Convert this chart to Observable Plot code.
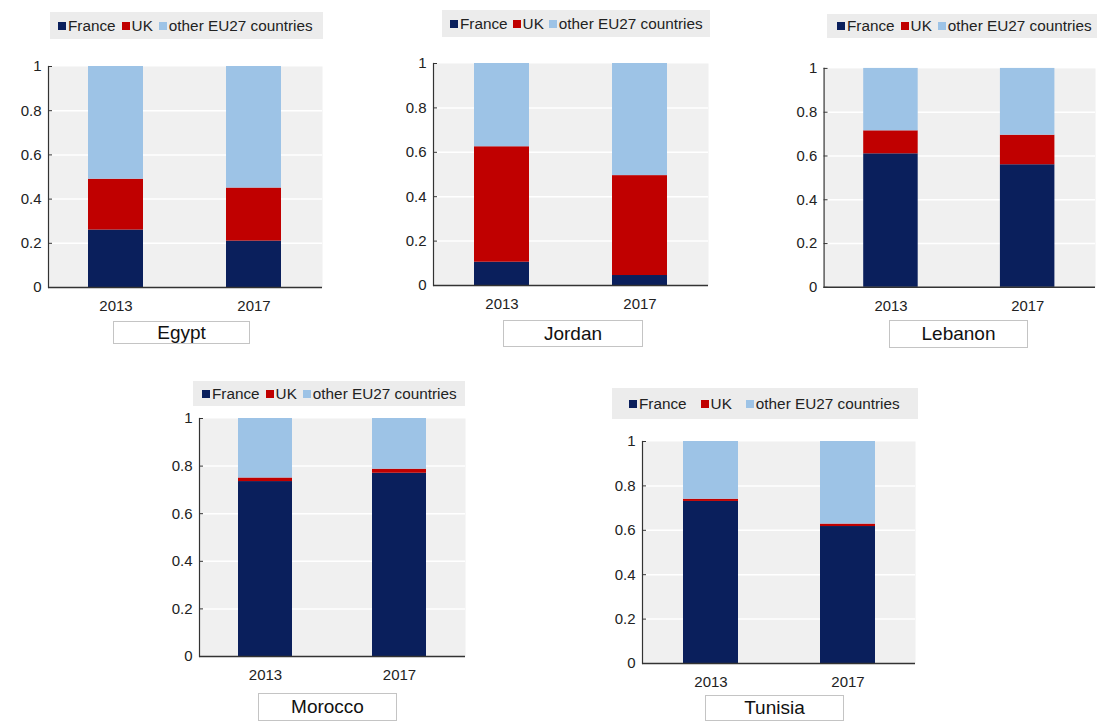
<!DOCTYPE html>
<html><head><meta charset="utf-8">
<script src="https://cdn.jsdelivr.net/npm/d3@7"></script>
<script src="https://cdn.jsdelivr.net/npm/@observablehq/plot@0.6"></script>
<style>
body{margin:0;background:#fff;font-family:"Liberation Sans",Arial,sans-serif;}
#root{position:relative;width:1097px;height:721px;overflow:hidden;}
.legend{position:absolute;background:#ececec;display:flex;align-items:center;justify-content:flex-start;box-sizing:border-box;font-size:15.3px;color:#222;white-space:nowrap;}
.legend .item{display:flex;align-items:center;}
.legend .sw{width:8px;height:8px;margin-right:2px;}
.lab{position:absolute;border:1px solid #c4c4c4;background:#fff;box-sizing:border-box;display:flex;align-items:center;justify-content:center;font-size:19px;color:#111;}
.panel{position:absolute;}
</style></head>
<body><div id="root"></div>
<script>
// ---- data ----
const countries = ["Egypt", "Jordan", "Lebanon", "Morocco", "Tunisia"];
const years = ["2013", "2017"];
const series = ["France", "UK", "other EU27 countries"];
const colors = ["#0a1f5c", "#c00000", "#9dc3e6"];
const yTicks = [0, 0.2, 0.4, 0.6, 0.8, 1];

const france2013 = [0.26, 0.105, 0.61, 0.735, 0.73];
const france2017 = [0.21, 0.045, 0.56, 0.77, 0.617];
const uk2013 = [0.23, 0.52, 0.105, 0.015, 0.01];
const uk2017 = [0.24, 0.45, 0.135, 0.017, 0.011];
const other2013 = [0.51, 0.375, 0.285, 0.25, 0.26];
const other2017 = [0.55, 0.505, 0.305, 0.213, 0.372];

// ---- layout (pixels) ----
const layout = [
  {axisX: 48, y1: 66, y0: 287, right: 322, leg: [50, 12, 273, 27], legPad: 8, legGap: 6, lab: [113, 321, 137, 23]},
  {axisX: 433, y1: 63, y0: 285, right: 708, leg: [442, 10, 268, 27], legPad: 8, legGap: 5, lab: [503, 320, 140, 27]},
  {axisX: 824, y1: 68, y0: 289, right: 1098, leg: [827, 14, 290, 24], legPad: 10, legGap: 6, lab: [889, 320, 139, 28]},
  {axisX: 199, y1: 418, y0: 656, right: 465, leg: [193, 381, 272, 25], legPad: 9, legGap: 6, lab: [258, 693, 139, 28]},
  {axisX: 642, y1: 441, y0: 663, right: 915, leg: [612, 388, 306, 31], legPad: 17, legGap: 14, lab: [705, 695, 139, 26]}
];

const root = document.getElementById("root");
const ML = 45, MR = 2, MT = 8, MB = 36;
const FONT = '"Liberation Sans", Arial, sans-serif';

countries.forEach((c, i) => {
  const L = layout[i];
  const data = [];
  const vals = {
    "2013": [france2013[i], uk2013[i], other2013[i]],
    "2017": [france2017[i], uk2017[i], other2017[i]]
  };
  years.forEach(y => series.forEach((s, k) => data.push({year: y, series: s, value: vals[y][k]})));

  const plotW = L.right - L.axisX;
  const plotH = L.y0 - L.y1;
  const chart = Plot.plot({
    width: ML + plotW + MR,
    height: MT + plotH + MB,
    marginLeft: ML, marginRight: MR, marginTop: MT, marginBottom: MB,
    style: {fontFamily: FONT, fontSize: "15px", color: "#222", background: "transparent", overflow: "visible"},
    x: {domain: years, paddingInner: 0.6, paddingOuter: 0.29, label: null},
    y: {domain: [0, 1], label: null},
    color: {domain: series, range: colors},
    marks: [
      Plot.frame({fill: "#f0f0f0", stroke: null}),
      Plot.gridY(yTicks.slice(1, 5), {stroke: "#fff", strokeOpacity: 1, strokeWidth: 1.5}),
      Plot.barY(data, {x: "year", y: "value", fill: "series", order: series}),
      Plot.axisX({tickSize: 0, tickPadding: 13, label: null, fill: "#222", fontSize: 15}),
      Plot.axisY(yTicks, {tickSize: 0, tickPadding: 7, label: null, fill: "#222", fontSize: 15, tickFormat: d => String(d)}),
      Plot.tickY(yTicks, {y: d => d, stroke: "#333", insetRight: plotW - 4}),
      Plot.frame({anchor: "left", stroke: "#333", strokeWidth: 1.2}),
      Plot.ruleY([0], {stroke: "#333", strokeWidth: 1.5})
    ]
  });
  const wrap = document.createElement("div");
  wrap.className = "panel";
  wrap.style.left = (L.axisX - ML) + "px";
  wrap.style.top = (L.y1 - MT) + "px";
  wrap.appendChild(chart);
  root.appendChild(wrap);

  // legend
  const leg = document.createElement("div");
  leg.className = "legend";
  leg.style.left = L.leg[0] + "px"; leg.style.top = L.leg[1] + "px";
  leg.style.width = L.leg[2] + "px"; leg.style.height = L.leg[3] + "px";
  leg.style.paddingLeft = L.legPad + "px";
  series.forEach((s, k) => {
    const it = document.createElement("span");
    it.className = "item";
    if (k > 0) it.style.marginLeft = L.legGap + "px";
    const sw = document.createElement("span");
    sw.className = "sw"; sw.style.background = colors[k];
    it.appendChild(sw);
    it.appendChild(document.createTextNode(s));
    leg.appendChild(it);
  });
  root.appendChild(leg);

  // country label box
  const lab = document.createElement("div");
  lab.className = "lab";
  lab.style.left = L.lab[0] + "px"; lab.style.top = L.lab[1] + "px";
  lab.style.width = L.lab[2] + "px"; lab.style.height = L.lab[3] + "px";
  lab.textContent = c;
  root.appendChild(lab);
});
</script>
</body></html>
